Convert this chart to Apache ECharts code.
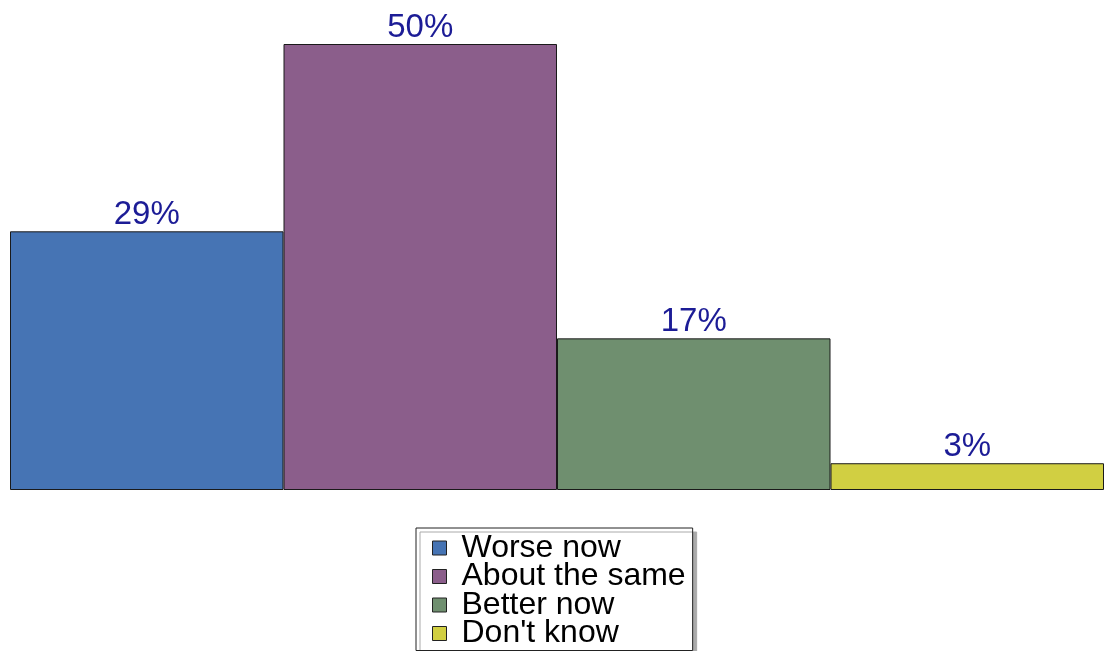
<!DOCTYPE html>
<html>
<head>
<meta charset="utf-8">
<script src="https://cdn.jsdelivr.net/npm/echarts@6/dist/echarts.min.js"></script>
<style>
  html, body { margin: 0; padding: 0; background: #fff; }
  #chart { width: 1105px; height: 651px; }
</style>
</head>
<body>
<div id="chart"></div>
<script>
  // answer categories and their shares (percent)
  var names = ['Worse now', 'About the same', 'Better now', "Don't know"];
  var values = [29, 50, 17, 3];
  var colors = ['#4674b4', '#8b5e8b', '#6f8f6f', '#d1cf42'];

  function loadChart() {
    var myChart = echarts.init(document.getElementById('chart'));

    var series = names.map(function (n, i) {
      return {
        name: n,
        type: 'bar',
        data: [values[i]],
        barGap: '0%',
        barCategoryGap: '0%',
        itemStyle: {
          color: colors[i],
          borderColor: '#1a1a1a',
          borderWidth: 1
        },
        label: {
          show: true,
          position: 'top',
          distance: 0,
          formatter: '{c}%',
          color: '#1c1c96',
          fontSize: 33,
          fontFamily: 'Liberation Sans'
        }
      };
    });

    var option = {
      animation: false,
      grid: { left: 10, right: 1, top: 44, bottom: 161 },
      xAxis: {
        type: 'category',
        data: [''],
        show: false
      },
      yAxis: {
        type: 'value',
        min: 0,
        max: 50,
        show: false
      },
      legend: {
        orient: 'vertical',
        left: 416,
        top: 528,
        height: 200,
        padding: [4, 7, 1, 16],
        itemGap: -3.5,
        itemWidth: 14,
        itemHeight: 14,
        icon: 'rect',
        backgroundColor: '#fff',
        borderColor: '#222',
        borderWidth: 1,
        shadowColor: '#aaa',
        shadowOffsetX: 4,
        shadowOffsetY: 4,
        shadowBlur: 0,
        itemStyle: { borderColor: '#222', borderWidth: 1 },
        textStyle: {
          color: '#000',
          fontSize: 32,
          fontFamily: 'Liberation Sans',
          padding: [0, 0, 0, 10]
        },
        data: names
      },
      series: series
    };

    myChart.setOption(option);
  }

  loadChart();
</script>
</body>
</html>
